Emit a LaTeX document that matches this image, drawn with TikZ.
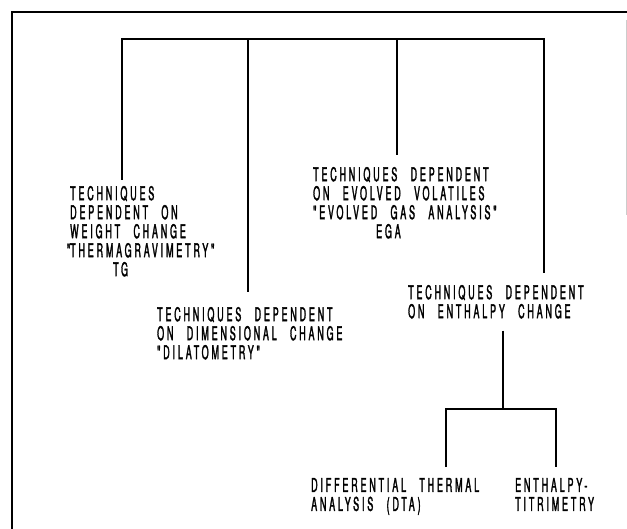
\documentclass[tikz,border=0pt]{standalone}
\usepackage{fontspec}
\newfontfamily\lettering[FakeStretch=0.47,LetterSpace=15,WordSpace=2.5,FakeBold=1.6]{TeX Gyre Heros}

\begin{document}
\begin{tikzpicture}[x=1pt, y=-1pt,
    tree/.style={line width=1.8pt},
    frame/.style={line width=2pt},
    txt/.style={inner sep=0pt, align=left, anchor=north west, font=\lettering\fontsize{19}{19}\selectfont}
]
\useasboundingbox (0,0) rectangle (627,529);

% frame
\draw[frame] (12,529) -- (12,12) -- (627,12);
\draw[gray!40, line width=0.8pt] (626,20) -- (626,215);

% labels
\node[txt, outer ysep=6pt] (tg) at (70,180) {TECHNIQUES\\DEPENDENT ON\\WEIGHT CHANGE\\\llap{"}THERMAGRAVIMETRY"\\\hspace*{43pt}TG};
\node[txt, outer ysep=15pt] (dil) at (157,292) {TECHNIQUES DEPENDENT\\ON DIMENSIONAL CHANGE\\"DILATOMETRY"};
\node[txt, outer ysep=12pt] (ega) at (313,155) {TECHNIQUES DEPENDENT\\ON EVOLVED VOLATILES\\"EVOLVED GAS ANALYSIS"\\\hspace*{63pt}EGA};
\node[txt, outer ysep=12pt] (enth) at (408,273) {TECHNIQUES DEPENDENT\\ON ENTHALPY CHANGE};
\node[txt, outer ysep=11pt] (dta) at (311,467) {DIFFERENTIAL THERMAL\\ANALYSIS (DTA)};
\node[txt, outer ysep=11pt] (tit) at (515,467) {ENTHALPY-\\TITRIMETRY};

% main tree
\coordinate (b1) at (122,39);
\coordinate (b2) at (248,39);
\coordinate (b3) at (397,39);
\coordinate (b4) at (544,39);
\draw[tree] (b1 |- tg.north) -- (b1) -- (b4) -- (b4 |- enth.north);
\foreach \b/\n in {b2/dil, b3/ega}
    \draw[tree] (\b) -- (\b |- \n.north);

% enthalpy branch
\coordinate (sb) at (503,409);
\coordinate (s1) at (446,409);
\coordinate (s2) at (556,409);
\draw[tree] (sb |- enth.south) -- (sb);
\draw[tree] (s1 |- dta.north) -- (s1) -- (s2) -- (s2 |- tit.north);
\end{tikzpicture}
\end{document}
